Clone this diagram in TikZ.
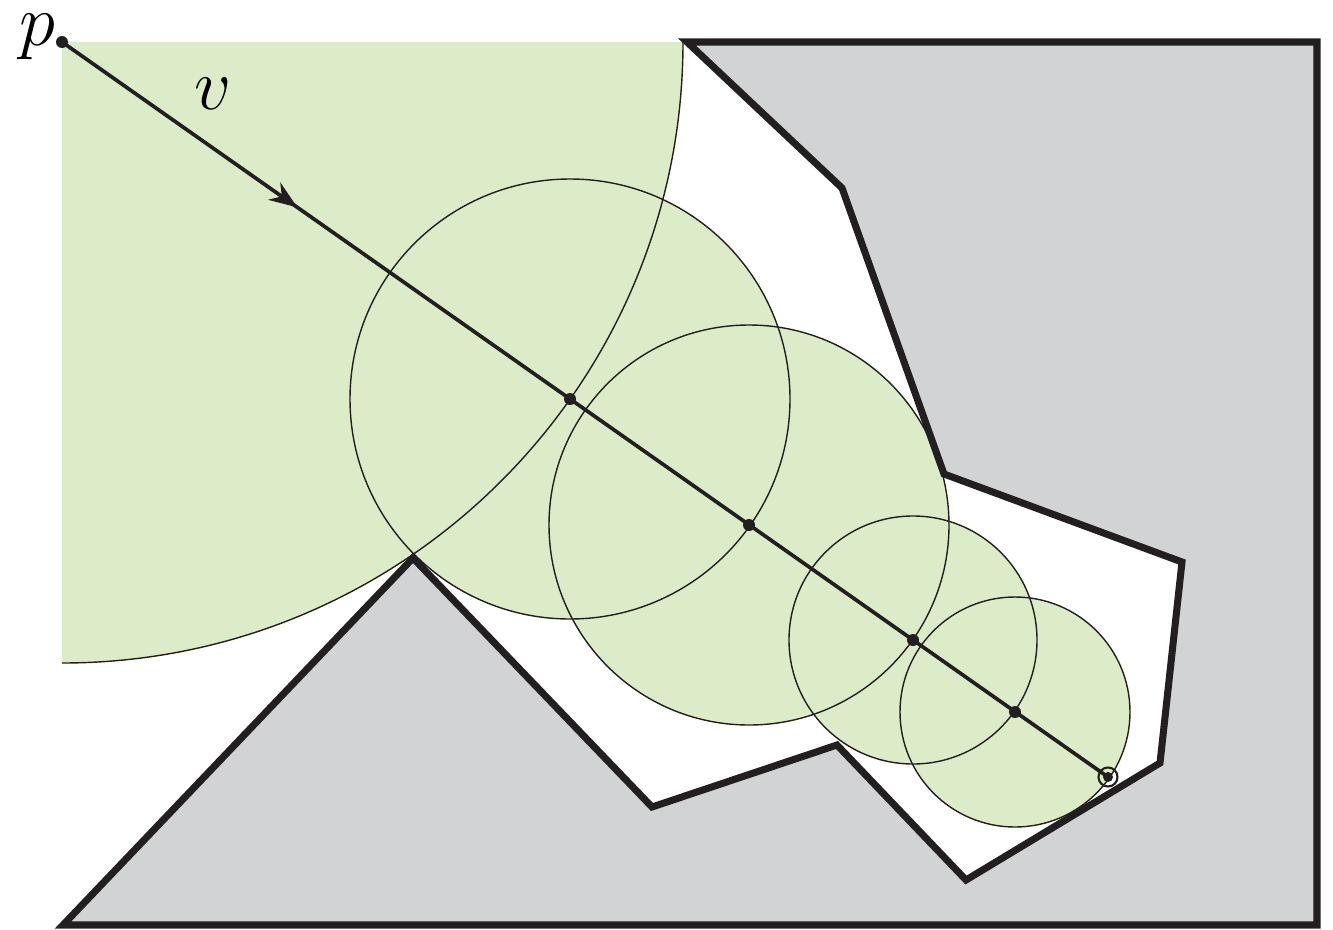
\documentclass[tikz,border=0pt]{standalone}
\usetikzlibrary{arrows.meta,decorations.markings}
\definecolor{disc}{RGB}{220,236,200}
\definecolor{obst}{RGB}{209,211,212}
\definecolor{ink}{RGB}{35,31,32}
\begin{document}
\begin{tikzpicture}[x=0.01cm,y=0.01cm,
  thinline/.style={draw=ink,line width=0.4pt},
  wallline/.style={draw=ink,line width=2pt,line join=miter},
  ray/.style={draw=ink,line width=1.05pt,
    postaction={decorate,decoration={markings,mark=at position 0.225 with {\arrow{Stealth[length=8pt,width=6pt]}}}}},
  lbl/.style={inner sep=0pt,font=\fontsize{22}{26}\selectfont}]
\useasboundingbox (0,0) rectangle (1333,929);
% coordinates
\coordinate (p) at (62,887);
\coordinate (c1) at (570,530);
\coordinate (c2) at (749,404);
\coordinate (c3) at (913,289);
\coordinate (c4) at (1015,217);
\coordinate (e) at (1108,152);
% obstacle region
\fill[obst] (687,887) -- (1317,887) -- (1317,4) -- (63,4) -- (413,371)
  -- (652,122) -- (837,184) -- (966,49) -- (1160,166) -- (1182,367)
  -- (944,455) -- (842,741) -- cycle;
% green fills
\begin{scope}
  \clip (62,887) rectangle (1333,0);
  \fill[disc] (p) circle[radius=621];
\end{scope}
\fill[disc] (c1) circle[radius=220];
\fill[disc] (c2) circle[radius=200];
\fill[disc] (c3) circle[radius=124];
\fill[disc] (c4) circle[radius=115];
% outlines
\draw[thinline] (683,887) arc[start angle=0,end angle=-90,radius=621];
\draw[thinline] (c1) circle[radius=220];
\draw[thinline] (c2) circle[radius=200];
\draw[thinline] (c3) circle[radius=124];
\draw[thinline] (c4) circle[radius=115];
% wall outline
\draw[wallline] (687,887) -- (1317,887) -- (1317,4) -- (63,4) -- (413,371)
  -- (652,122) -- (837,184) -- (966,49) -- (1160,166) -- (1182,367)
  -- (944,455) -- (842,741) -- cycle;
% ray
\draw[ray] (p) -- (e);
\fill[ink] (p) circle[radius=6];
\fill[ink] (c1) circle[radius=6];
\fill[ink] (c2) circle[radius=6];
\fill[ink] (c3) circle[radius=6];
\fill[ink] (c4) circle[radius=6];
\fill[ink] (e) circle[radius=5];
\draw[thinline,line width=0.6pt] (e) circle[radius=9.5];
% labels
\node[lbl] (plabel) at (37,892) {$p$};
\node[lbl] (vlabel) at (213,835) {$v$};
\end{tikzpicture}
\end{document}
